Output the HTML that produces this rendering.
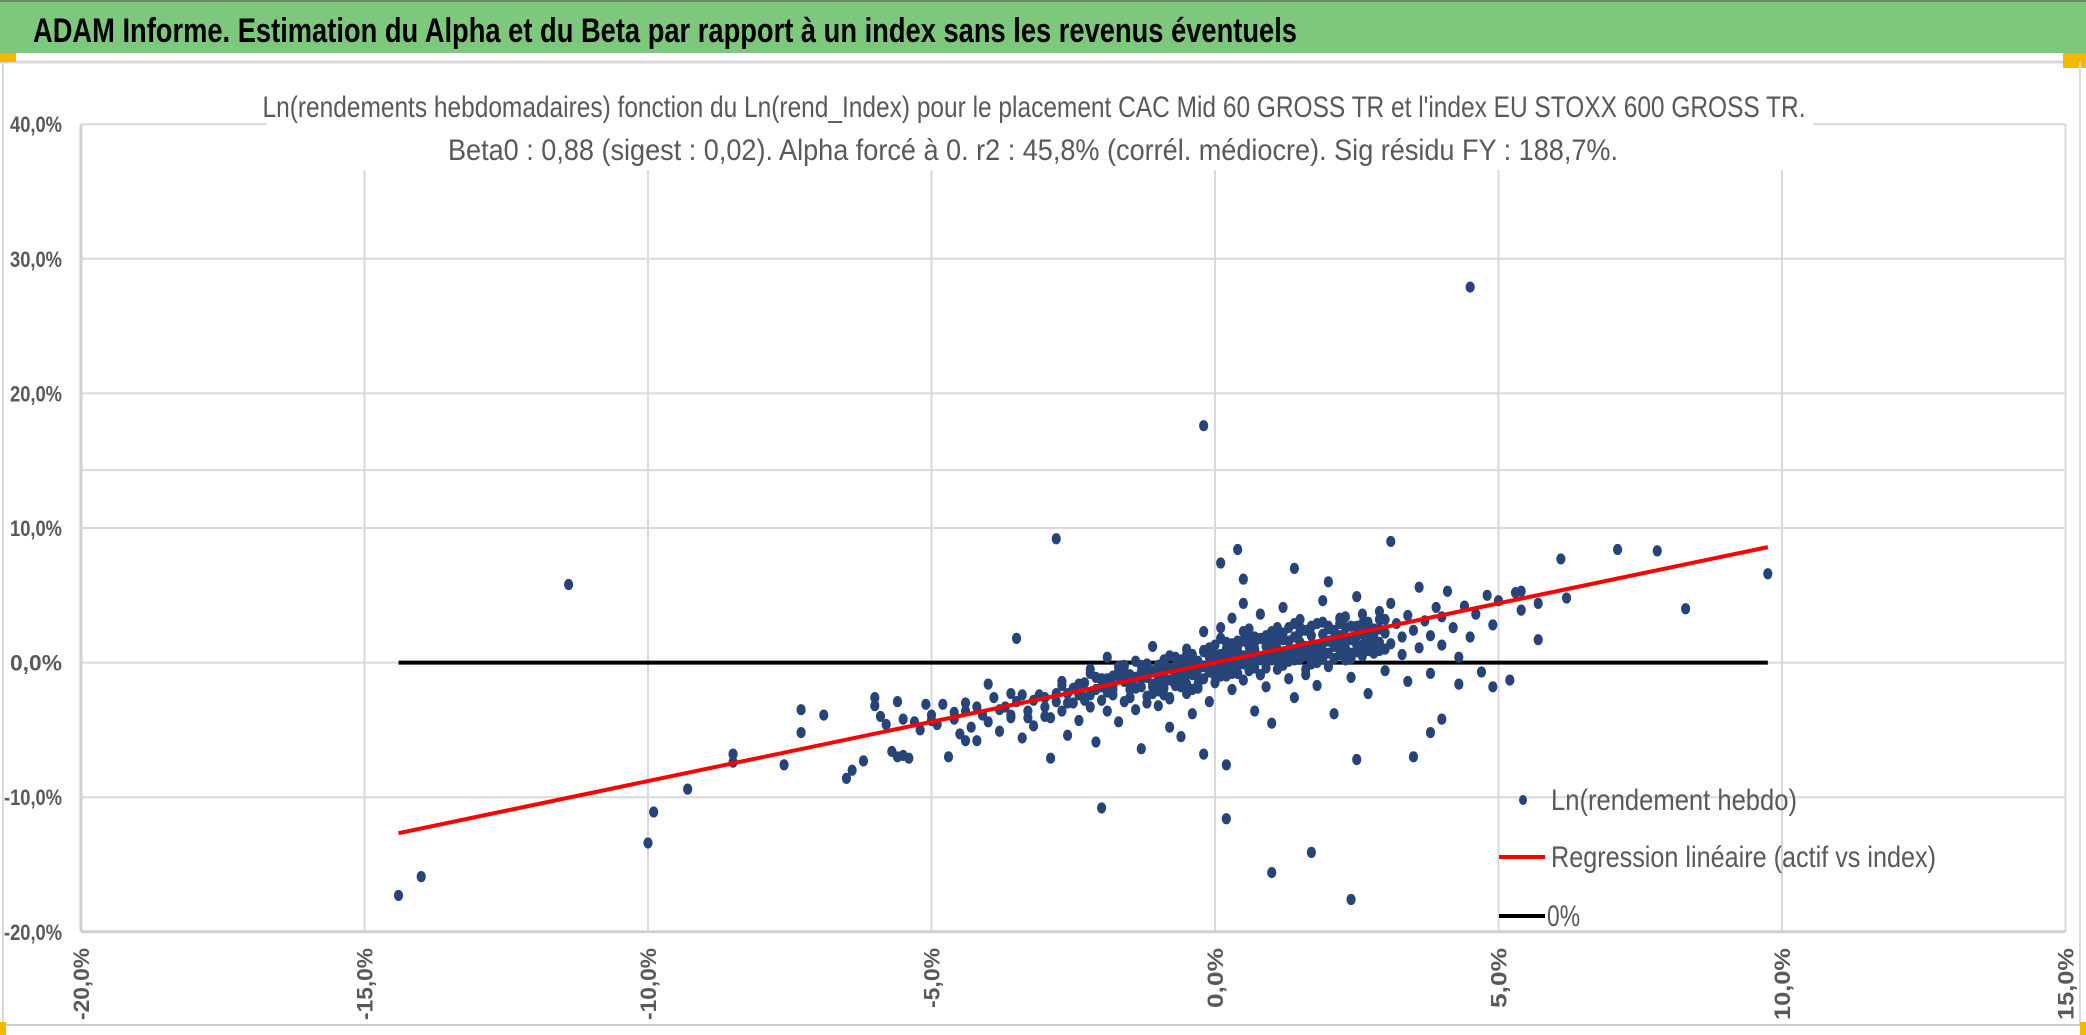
<!DOCTYPE html>
<html><head><meta charset="utf-8"><style>
html,body{margin:0;padding:0;background:#fff;}
svg{display:block;}
text{font-family:"Liberation Sans",sans-serif;}
</style></head><body>
<svg id="chart" width="2086" height="1035" viewBox="0 0 2086 1035">
<rect x="0" y="0" width="2086" height="1035" fill="#fff"/>
<rect x="0" y="0" width="2086" height="53" fill="#7dc87d"/>
<line x1="0" y1="1" x2="2086" y2="1" stroke="#6a8a6a" stroke-width="2"/>
<text x="33" y="42" font-size="34" font-weight="bold" fill="#000" textLength="1264" lengthAdjust="spacingAndGlyphs">ADAM Informe. Estimation du Alpha et du Beta par rapport à un index sans les revenus éventuels</text>
<line x1="0" y1="62" x2="2086" y2="62" stroke="#d9d9d9" stroke-width="3"/>
<rect x="0" y="53" width="16" height="9" fill="#f5b800"/>
<rect x="2063" y="53" width="23" height="15" fill="#f5b800"/>
<line x1="3" y1="62" x2="3" y2="1025" stroke="#d9d9d9" stroke-width="2"/>
<line x1="2080" y1="62" x2="2080" y2="1025" stroke="#d9d9d9" stroke-width="2"/>
<line x1="0" y1="1025" x2="2086" y2="1025" stroke="#cfcfcf" stroke-width="2"/>
<rect x="0" y="1022" width="6" height="13" fill="#f5b800"/>
<rect x="2080" y="1022" width="6" height="13" fill="#f5b800"/>
<g id="grid"></g>
<g id="axes"></g>
<rect x="267" y="82" width="1546" height="88" fill="#fff"/>
<text x="1034" y="117" font-size="30" fill="#595959" text-anchor="middle" textLength="1543" lengthAdjust="spacingAndGlyphs">Ln(rendements hebdomadaires) fonction du Ln(rend_Index) pour le placement CAC Mid 60 GROSS TR et l'index EU STOXX 600 GROSS TR.</text>
<text x="1033" y="160" font-size="30" fill="#595959" text-anchor="middle" textLength="1170" lengthAdjust="spacingAndGlyphs">Beta0 : 0,88 (sigest : 0,02). Alpha forcé à 0. r2 : 45,8% (corrél. médiocre). Sig résidu FY : 188,7%.</text>
<g id="series"></g>
<g id="legend"></g>
</svg>
<script>
const xTicks=[-20,-15,-10,-5,0,5,10,15];
const xTickLabels=["-20,0%","-15,0%","-10,0%","-5,0%","0,0%","5,0%","10,0%","15,0%"];
const yTicks=[-20,-10,0,10,20,30,40];
const yTickLabels=["-20,0%","-10,0%","0,0%","10,0%","20,0%","30,0%","40,0%"];
const extraGrid=[14.3];
const beta=0.88;
const lineRange=[-14.4,9.75];
const idxRet=[-11.4,-14.4,-14.0,-10.0,-9.9,-9.3,-8.5,-8.5,-7.6,-7.3,-7.3,-6.9,-6.5,-6.4,-6.2,-2.8,-3.5,-2.0,-0.2,4.5,0.2,1.0,1.7,2.4,2.5,3.5,3.1,7.1,7.8,8.3,9.75,6.1,6.2,5.7,5.3,5.4,4.8,4.9,5.2,4.3,4.0,3.8,0.4,0.1,0.5,2.0,1.4,
-6.0,-6.0,-5.9,-5.8,-5.7,-5.6,-5.5,-5.4,-5.6,-5.3,-5.2,-5.0,-4.9,-4.8,-4.7,-4.6,-4.5,-4.4,-4.3,-4.2,-4.1,-4.0,-3.9,-3.8,-3.7,-3.6,-3.5,-3.4,-3.3,-3.2,-3.1,-3.0,-2.9,-2.9,-2.8,-2.7,-2.6,-2.6,-2.5,-2.5,-2.4,-2.3,-2.3,-2.2,-2.2,-2.1,-2.1,-2.0,-2.0,-1.9,-1.9,-1.8,-1.8,-1.7,-1.7,-1.6,-1.6,-1.5,-1.5,-1.4,-1.4,-1.3,-1.3,-1.2,-1.2,-1.1,-1.1,-1.0,-1.0,-1.0,-0.9,-0.9,-0.8,-0.8,-0.8,-0.7,-0.7,-0.6,-0.6,-0.6,-0.5,-0.5,-0.5,-0.4,-0.4,-0.4,-0.3,-0.3,-0.3,-0.2,-0.2,-0.2,-0.1,-0.1,-0.1,0.0,0.0,0.0,0.1,0.1,0.1,0.2,0.2,0.2,0.3,0.3,0.3,0.4,0.4,0.4,0.5,0.5,0.5,0.6,0.6,0.6,0.7,0.7,0.7,0.8,0.8,0.8,0.9,0.9,0.9,1.0,1.0,1.0,1.1,1.1,1.2,1.2,1.2,1.3,1.3,1.4,1.4,1.5,1.5,1.6,1.6,1.7,1.7,1.8,1.8,1.9,1.9,2.0,2.0,2.1,2.1,2.2,2.2,2.3,2.3,2.4,2.4,2.5,2.5,2.6,2.6,2.7,2.7,2.8,2.8,2.9,2.9,3.0,3.0,3.1,3.1,3.2,3.3,3.3,3.4,3.4,3.5,3.6,3.6,3.7,3.8,3.8,3.9,4.0,4.0,4.1,4.2,4.3,4.4,4.5,4.6,4.7,4.9,5.0,5.4,5.7,
-1.5,-1.3,-1.1,-0.9,-0.7,-0.5,-0.3,-0.1,0.0,0.2,0.3,0.4,0.5,0.6,0.7,0.8,0.9,1.0,1.1,1.2,1.3,1.4,1.5,1.6,1.7,1.8,1.9,2.0,2.1,2.2,2.3,2.4,2.5,2.6,2.7,2.8,2.9,3.0,-1.6,-1.4,-1.2,-1.0,-0.8,-0.6,-0.4,-0.2,0.0,0.1,0.3,0.5,0.7,0.9,1.1,1.3,1.5,1.7,1.9,2.1,2.3,2.5,2.7,0.2,0.6,1.0,1.4,1.8,2.2,-0.9,-0.5,-2.4,-2.0,-1.8,-2.6,-2.8,-3.2,
-1.9,-1.7,-1.5,-1.3,-1.1,-0.9,-0.7,-0.5,-0.3,-0.1,0.1,0.3,0.5,0.7,0.9,1.1,1.3,1.5,1.7,1.9,2.1,2.3,2.5,2.7,2.9,-1.0,-0.6,-0.2,0.2,0.6,1.0,1.4,1.8,2.2,2.6,0.0,0.4,0.8,1.2,1.6,2.0,2.4,2.8,-0.4,-0.8,-1.2,-1.6,-2.2,-2.7,-3.0,-3.6,-4.0,-4.4,-5.1,
-2.4,-2.2,-2.0,-1.8,-1.6,-1.4,-1.2,-1.0,-0.8,-0.6,-0.4,-0.2,0.0,0.2,0.4,0.6,0.8,1.0,1.2,1.4,1.6,1.8,2.0,2.2,2.4,2.6,2.8,3.0,-2.3,-2.1,-1.9,-1.7,-1.5,-1.3,-1.1,-0.9,-0.7,-0.5,-0.3,-0.1,0.1,0.3,0.5,0.7,0.9,1.1,1.3,1.5,1.7,1.9,2.1,2.3,2.5,2.7,2.9,-5.0,-4.6,-4.2,-3.8,-3.4,-3.0,-2.7,-5.5,-4.4,-3.6,-3.3];
const assetRet=[5.8,-17.3,-15.9,-13.4,-11.1,-9.4,-6.8,-7.4,-7.6,-3.5,-5.2,-3.9,-8.6,-8.0,-7.3,9.2,1.8,-10.8,17.6,27.9,-11.6,-15.6,-14.1,-17.6,-7.2,-7.0,9.0,8.4,8.3,4.0,6.6,7.7,4.8,1.7,5.2,5.3,5.0,-1.8,-1.3,-1.6,-4.2,-5.2,8.4,7.4,6.2,6.0,7.0,
-2.6,-3.2,-4.0,-4.6,-6.6,-7.0,-6.9,-7.1,-2.9,-4.4,-5.0,-3.9,-4.6,-3.1,-7.0,-4.2,-5.3,-3.6,-4.8,-5.8,-3.9,-4.4,-2.6,-5.1,-3.3,-4.1,-2.9,-5.6,-3.6,-4.7,-2.4,-3.3,-7.1,-4.1,-2.9,-3.6,-2.3,-5.4,-3.0,-1.9,-4.3,-2.6,-1.5,-3.3,-0.8,-2.0,-5.9,-2.8,-1.2,-3.6,0.4,-1.7,-2.4,-0.6,-4.4,-1.4,-2.9,-0.9,-2.0,0.1,-3.5,-1.2,-6.4,-2.5,-0.4,-1.6,1.2,-0.9,-3.2,-2.1,-0.2,-1.3,-4.8,0.5,-2.6,-0.8,-1.7,0.2,-5.5,-1.1,-0.3,-2.3,1.0,-0.9,-3.8,0.6,-1.6,0.1,-0.5,2.3,-1.2,-6.8,0.4,-0.7,-2.9,0.0,1.3,-1.5,0.6,-0.4,2.6,-7.6,1.0,-1.0,0.3,3.3,-2.0,1.6,-0.2,0.8,4.4,-1.3,0.5,1.2,-0.6,2.5,-3.6,0.9,0.1,1.8,-0.9,3.6,0.6,-1.8,1.4,0.2,2.3,-4.5,1.0,-0.5,1.7,4.1,0.4,-1.2,2.6,0.9,-2.6,1.5,3.2,0.5,-0.9,2.0,1.1,-1.7,2.9,0.8,4.6,1.6,-0.3,2.4,-3.8,1.0,3.3,0.2,1.9,2.7,-1.1,1.3,4.9,2.1,0.5,3.0,-2.3,1.7,2.5,0.9,3.8,2.2,-0.6,1.4,4.4,2.9,0.6,1.9,3.5,-1.4,2.4,1.1,5.6,3.1,-0.8,2.0,4.1,1.3,3.4,5.3,2.6,0.4,4.2,1.9,3.6,-0.7,2.8,4.6,3.9,4.4,
-1.5,-0.7,-2.3,-1.9,-0.3,-1.6,-1.1,-0.1,0.6,0.0,-0.8,1.2,-0.1,0.7,1.5,0.2,-0.4,1.1,0.3,-0.2,0.8,1.9,0.3,1.2,-0.1,0.9,2.1,0.7,1.2,2.0,1.1,0.7,2.0,1.3,0.9,2.0,1.5,1.0,-0.3,-1.9,-1.1,-0.4,-1.3,-0.6,0.0,-0.3,-0.6,1.8,0.9,1.6,-0.4,2.0,1.6,0.1,2.3,0.6,1.4,0.3,2.6,0.8,1.7,0.4,0.1,0.7,0.4,1.3,0.6,-0.7,0.3,-2.4,-1.8,-1.0,-3.0,-2.3,-2.8,
-1.2,-1.0,-2.6,-0.2,-1.8,0.2,-0.9,0.6,-0.1,0.9,0.5,1.4,0.2,1.9,0.4,2.2,0.9,2.6,1.3,3.0,1.8,3.4,2.6,2.1,3.2,-0.2,0.0,0.8,-0.6,1.4,1.8,2.9,0.2,2.9,3.6,-1.0,-0.8,-0.9,0.6,-0.5,2.7,0.3,0.7,-2.0,-2.7,-3.0,-0.2,-0.5,-1.4,-4.0,-2.3,-1.6,-5.8,-3.1,
-1.6,-2.4,-1.3,-2.0,-0.9,-1.1,-0.1,-1.3,-0.4,-1.8,-0.5,0.9,-0.9,1.5,-0.8,1.9,0.4,1.6,2.2,0.2,2.4,0.0,2.5,1.5,1.7,2.9,1.2,3.2,-2.8,-1.1,-2.2,-0.3,-2.6,-1.8,-0.6,-2.4,0.4,-0.9,-1.9,1.1,-1.0,0.0,2.3,1.0,1.2,2.6,1.6,0.9,2.7,0.3,1.8,0.5,2.7,2.3,2.5,-4.3,-3.7,-3.3,-3.5,-2.4,-2.6,-1.7,-4.2,-3.0,-3.9,-4.1];
const SVGNS="http://www.w3.org/2000/svg";
const X0=81,XS=56.7,Y0=662.6,YS=13.46;
function sx(v){return X0+(v+20)*XS;}
function sy(v){return Y0-v*YS;}
function mk(tag,attrs,parent){const e=document.createElementNS(SVGNS,tag);for(const k in attrs)e.setAttribute(k,attrs[k]);parent.appendChild(e);return e;}
const grid=document.getElementById('grid'),axes=document.getElementById('axes'),series=document.getElementById('series'),legend=document.getElementById('legend');
yTicks.forEach((t,i)=>{
  if(t!==-20){const l=mk('line',{x1:sx(-20),x2:sx(15),y1:sy(t),y2:sy(t),stroke:'#d9d9d9','stroke-width':2},grid);
  
  }
  const tx=mk('text',{x:62,y:sy(t)+8,'font-size':22,'font-weight':'bold',fill:'#595959','text-anchor':'end',textLength:t<0?58:52,lengthAdjust:'spacingAndGlyphs'},axes);
  tx.textContent=yTickLabels[i];
  
  
});
extraGrid.forEach(t=>{const l=mk('line',{x1:sx(-20),x2:sx(15),y1:sy(t),y2:sy(t),stroke:'#d9d9d9','stroke-width':2},grid);
  
  });
xTicks.forEach((t,i)=>{
  if(t!==-20){const l=mk('line',{x1:sx(t),x2:sx(t),y1:sy(40),y2:sy(-20),stroke:'#d9d9d9','stroke-width':2},grid);
  
  }
  const tx=mk('text',{x:0,y:0,'font-size':22,'font-weight':'bold',fill:'#595959','text-anchor':'end',transform:`translate(${sx(t)+8},948) rotate(-90)`,textLength:t===-5||t===0||t===5?60:72,lengthAdjust:'spacingAndGlyphs'},axes);
  tx.textContent=xTickLabels[i];
  
  
});
let ax=mk('line',{x1:sx(-20),x2:sx(15),y1:sy(-20),y2:sy(-20),stroke:'#d0d0d0','stroke-width':3},axes);


let ay=mk('line',{x1:sx(-20),x2:sx(-20),y1:sy(40),y2:sy(-20),stroke:'#d0d0d0','stroke-width':3},axes);


let zl=mk('line',{x1:sx(lineRange[0]),x2:sx(lineRange[1]),y1:sy(0),y2:sy(0),stroke:'#000','stroke-width':4},series);


const dots=mk('g',{},series);


idxRet.forEach((x,i)=>{
  const c=mk('ellipse',{cx:sx(x),cy:sy(assetRet[i]),rx:4.6,ry:5.6,fill:'#264478'},dots);
  
  
});
let rl=mk('line',{x1:sx(lineRange[0]),x2:sx(lineRange[1]),y1:sy(beta*lineRange[0]),y2:sy(beta*lineRange[1]),stroke:'#ff0000','stroke-width':4},series);


const lg=mk('rect',{x:1495,y:775,width:420,height:150,fill:'none'},legend);


const ld=mk('ellipse',{cx:1523,cy:800,rx:4,ry:5,fill:'#264478'},legend);


const l1=mk('text',{x:1551,y:810,'font-size':30,fill:'#595959',textLength:246,lengthAdjust:'spacingAndGlyphs'},legend);l1.textContent='Ln(rendement hebdo)';


const lr=mk('line',{x1:1499,x2:1545,y1:857,y2:857,stroke:'#ff0000','stroke-width':4},legend);


const l2=mk('text',{x:1551,y:867,'font-size':30,fill:'#595959',textLength:385,lengthAdjust:'spacingAndGlyphs'},legend);l2.textContent='Regression linéaire (actif vs index)';


const lz=mk('line',{x1:1499,x2:1545,y1:916,y2:916,stroke:'#000','stroke-width':4},legend);


const l3=mk('text',{x:1547,y:926,'font-size':30,fill:'#595959',textLength:33,lengthAdjust:'spacingAndGlyphs'},legend);l3.textContent='0%';


</script>
</body></html>
